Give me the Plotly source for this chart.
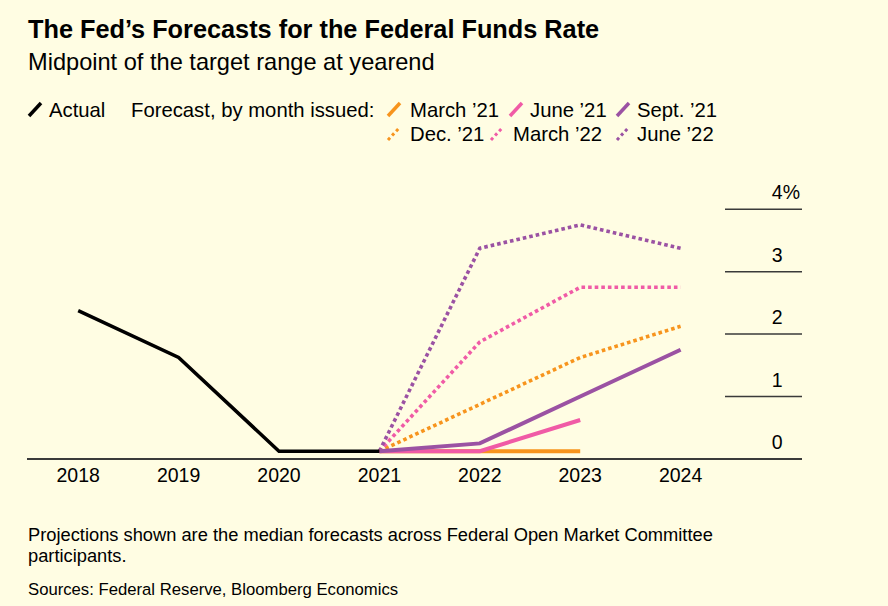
import plotly.graph_objects as go

years_actual = [2018, 2019, 2020, 2021]
actual = [2.375, 1.625, 0.125, 0.125]

fc_years = [2021, 2022, 2023, 2024]
march21 = [0.125, 0.125, 0.125, None]
june21 = [0.125, 0.125, 0.625, None]
sept21 = [0.125, 0.25, 1.0, 1.75]
dec21 = [0.125, 0.875, 1.625, 2.125]
march22 = [0.125, 1.875, 2.75, 2.75]
june22 = [0.125, 3.375, 3.75, 3.375]

x_ticks = [2018, 2019, 2020, 2021, 2022, 2023, 2024]
y_ticks = [0, 1, 2, 3, 4]
y_ticktext = ["0", "1", "2", "3", "4%"]

ORANGE = "#F7941D"
PINK = "#F05BA6"
PURPLE = "#9B52A3"
BG = "#FFFDE3"
FONT = "Liberation Sans"

W, H = 888, 606
L, R, T, B = 27, 86, 170, 147
PW = W - L - R
PH = H - T - B


def px(x):
    return (x - L) / PW


def py(y):
    return (H - B - y) / PH


fig = go.Figure()

dotted = [("Dec. ’21", dec21, ORANGE), ("March ’22", march22, PINK), ("June ’22", june22, PURPLE)]
solid = [("March ’21", march21, ORANGE), ("June ’21", june21, PINK), ("Sept. ’21", sept21, PURPLE)]

for name, vals, col in dotted:
    fig.add_trace(go.Scatter(x=fc_years, y=vals, mode="lines", name=name,
                             line=dict(color=col, width=3.6, dash="3.6px,3px")))
for name, vals, col in solid:
    fig.add_trace(go.Scatter(x=fc_years, y=vals, mode="lines", name=name,
                             line=dict(color=col, width=4)))
fig.add_trace(go.Scatter(x=years_actual, y=actual, mode="lines", name="Actual",
                         line=dict(color="#000000", width=3.5)))

shapes = []
for v in y_ticks[1:]:
    shapes.append(dict(type="line", xref="paper", yref="y", x0=px(725), x1=1, y0=v, y1=v,
                       line=dict(color="#3a3a3a", width=1.5)))

annotations = []


def txt(x, y, s, size, bold=False, color="#000000"):
    annotations.append(dict(xref="paper", yref="paper", x=px(x), y=py(y), text=s,
                            showarrow=False, xanchor="left", yanchor="middle",
                            font=dict(family=FONT, size=size, color=color,
                                      weight="bold" if bold else "normal")))


def slash(x, y, col, dash="solid"):
    shapes.append(dict(type="line", xref="paper", yref="paper",
                       x0=px(x), y0=py(y + 6), x1=px(x + 12), y1=py(y - 7),
                       line=dict(color=col, width=3.5 if dash == "solid" else 3, dash=dash)))


txt(26, 29, "The Fed’s Forecasts for the Federal Funds Rate", 25.3, bold=True)
txt(26, 62, "Midpoint of the target range at yearend", 23.6)

row1, row2 = 110, 134
LS = 20.3
slash(29, row1, "#000000")
txt(47, row1, "Actual", LS)
txt(129, row1, "Forecast, by month issued:", LS)
slash(388, row1, ORANGE)
txt(408, row1, "March ’21", LS)
slash(510, row1, PINK)
txt(528, row1, "June ’21", LS)
slash(617, row1, PURPLE)
txt(635, row1, "Sept. ’21", LS)
slash(388, row2, ORANGE, "dot")
txt(408, row2, "Dec. ’21", LS)
slash(491, row2, PINK, "dot")
txt(511, row2, "March ’22", LS)
slash(617, row2, PURPLE, "dot")
txt(635, row2, "June ’22", LS)

txt(26, 534, "Projections shown are the median forecasts across Federal Open Market Committee", 18.3)
txt(26, 555, "participants.", 18.3)
txt(26, 589, "Sources: Federal Reserve, Bloomberg Economics", 16.7)

# keep digits aligned: non-% labels get an invisible % placeholder
y_labels = [t if t.endswith("%") else t + "<span style='color:rgba(0,0,0,0)'>%</span>"
            for t in y_ticktext]

fig.update_layout(
    width=W, height=H,
    margin=dict(l=L, r=R, t=T, b=B, pad=0),
    paper_bgcolor=BG, plot_bgcolor=BG,
    showlegend=False,
    font=dict(family=FONT, size=19.5, color="#000000"),
    shapes=shapes,
    annotations=annotations,
    xaxis=dict(range=[2017.49, 2017.49 + PW / 100.4], tickvals=x_ticks,
               ticktext=[str(v) for v in x_ticks], showgrid=False, zeroline=False,
               showline=False, ticks="", tickfont=dict(size=19.5, color="#000000"),
               ticklabelstandoff=2),
    yaxis=dict(range=[0, PH / 62.45], side="right", tickvals=y_ticks, ticktext=y_labels,
               ticklabelposition="inside top", showgrid=False, zeroline=True,
               zerolinecolor="#3a3a3a", zerolinewidth=2, showline=False, ticks="",
               tickfont=dict(size=19.5, color="#000000"), ticklabelstandoff=-1,
               ticklabelshift=-3),
)

fig.write_html("out.html", config={"displayModeBar": False},
               post_script="document.body.style.margin='0';document.body.style.background='%s';" % BG)
